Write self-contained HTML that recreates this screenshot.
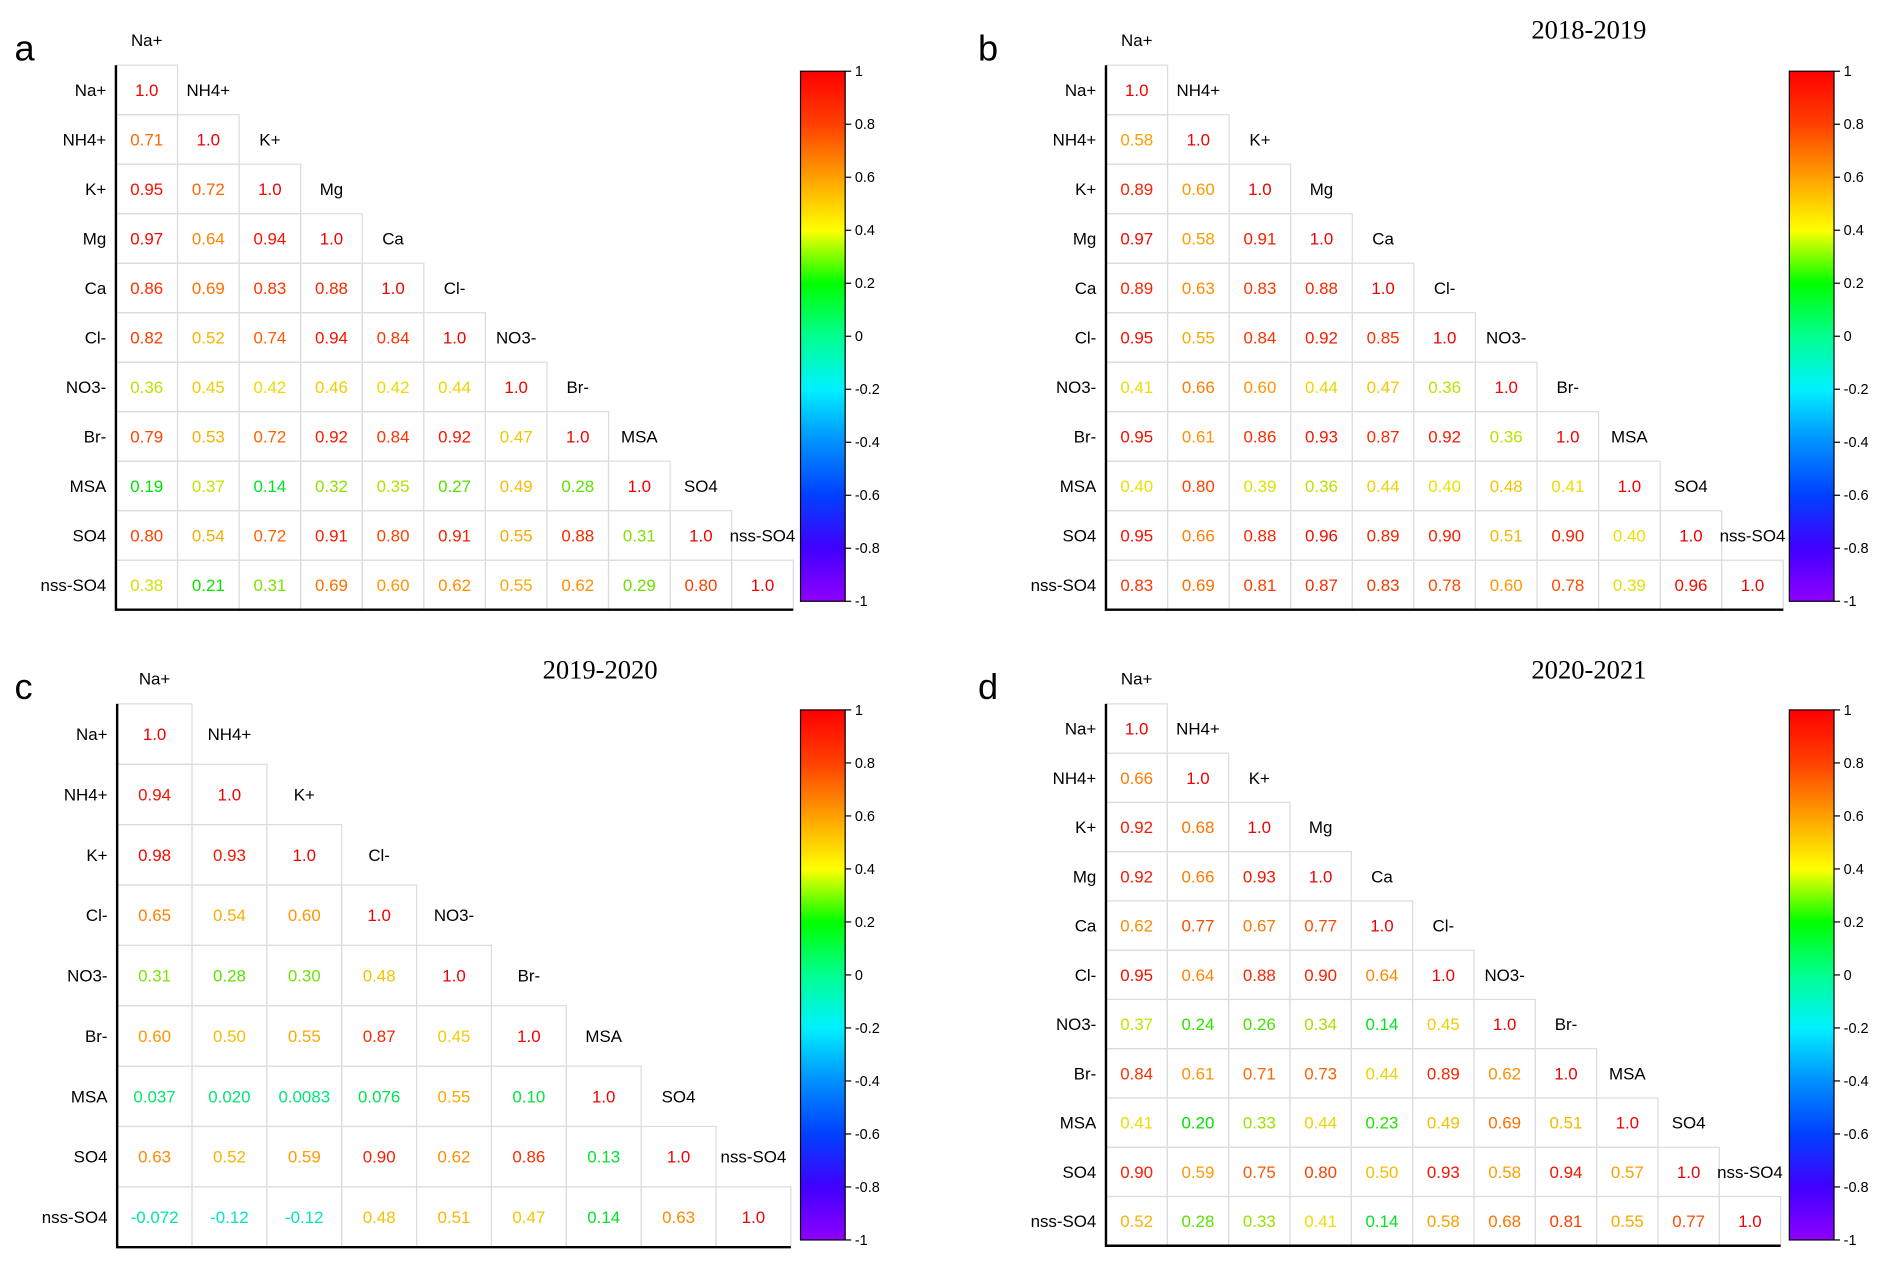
<!DOCTYPE html>
<html><head><meta charset="utf-8"><style>
html,body{margin:0;padding:0;background:#fff;}
svg{display:block;}
</style></head><body>
<svg id="fig" width="1892" height="1267" viewBox="0 0 1567 1049.4" xmlns="http://www.w3.org/2000/svg" font-family="Liberation Sans, Arial, sans-serif">
<defs>
<linearGradient id="rainbow" x1="0" y1="1" x2="0" y2="0">
<stop offset="0" stop-color="#8f00ff"/>
<stop offset="0.1" stop-color="#4000ff"/>
<stop offset="0.2" stop-color="#0040ff"/>
<stop offset="0.3" stop-color="#0090ff"/>
<stop offset="0.4" stop-color="#00f0ff"/>
<stop offset="0.5" stop-color="#00ff90"/>
<stop offset="0.6" stop-color="#00ff00"/>
<stop offset="0.7" stop-color="#ffff00"/>
<stop offset="0.8" stop-color="#ffa000"/>
<stop offset="0.9" stop-color="#ff4000"/>
<stop offset="1" stop-color="#ff0000"/>
</linearGradient>
</defs>
</svg>
<script>
// ---- data ----
const varsA = ["Na+","NH4+","K+","Mg","Ca","Cl-","NO3-","Br-","MSA","SO4","nss-SO4"];
const varsC = ["Na+","NH4+","K+","Cl-","NO3-","Br-","MSA","SO4","nss-SO4"];
const rowsA = [[],[0.71],[0.95,0.72],[0.97,0.64,0.94],[0.86,0.69,0.83,0.88],[0.82,0.52,0.74,0.94,0.84],[0.36,0.45,0.42,0.46,0.42,0.44],[0.79,0.53,0.72,0.92,0.84,0.92,0.47],[0.19,0.37,0.14,0.32,0.35,0.27,0.49,0.28],[0.80,0.54,0.72,0.91,0.80,0.91,0.55,0.88,0.31],[0.38,0.21,0.31,0.69,0.60,0.62,0.55,0.62,0.29,0.80]];
const rowsB = [[],[0.58],[0.89,0.60],[0.97,0.58,0.91],[0.89,0.63,0.83,0.88],[0.95,0.55,0.84,0.92,0.85],[0.41,0.66,0.60,0.44,0.47,0.36],[0.95,0.61,0.86,0.93,0.87,0.92,0.36],[0.40,0.80,0.39,0.36,0.44,0.40,0.48,0.41],[0.95,0.66,0.88,0.96,0.89,0.90,0.51,0.90,0.40],[0.83,0.69,0.81,0.87,0.83,0.78,0.60,0.78,0.39,0.96]];
const rowsC = [[],[0.94],[0.98,0.93],[0.65,0.54,0.60],[0.31,0.28,0.30,0.48],[0.60,0.50,0.55,0.87,0.45],[0.037,0.020,0.0083,0.076,0.55,0.10],[0.63,0.52,0.59,0.90,0.62,0.86,0.13],[-0.072,-0.12,-0.12,0.48,0.51,0.47,0.14,0.63]];
const rowsD = [[],[0.66],[0.92,0.68],[0.92,0.66,0.93],[0.62,0.77,0.67,0.77],[0.95,0.64,0.88,0.90,0.64],[0.37,0.24,0.26,0.34,0.14,0.45],[0.84,0.61,0.71,0.73,0.44,0.89,0.62],[0.41,0.20,0.33,0.44,0.23,0.49,0.69,0.51],[0.90,0.59,0.75,0.80,0.50,0.93,0.58,0.94,0.57],[0.52,0.28,0.33,0.41,0.14,0.58,0.68,0.81,0.55,0.77]];
const cbTicks = [1,0.8,0.6,0.4,0.2,0,-0.2,-0.4,-0.6,-0.8,-1];
const cbTickLabels = ["1","0.8","0.6","0.4","0.2","0","-0.2","-0.4","-0.6","-0.8","-1"];
const panelLetters = ["a","b","c","d"];
const panelTitles = ["","2018-2019","2019-2020","2020-2021"];

const NS="http://www.w3.org/2000/svg";
const svg=document.getElementById('fig');
function mk(tag,attrs,parent){const e=document.createElementNS(NS,tag);for(const k in attrs)e.setAttribute(k,attrs[k]);(parent||svg).appendChild(e);return e;}

const stops=[[-1,[143,0,255]],[-0.8,[64,0,255]],[-0.6,[0,64,255]],[-0.4,[0,144,255]],[-0.2,[0,230,240]],[0,[0,230,130]],[0.2,[0,225,0]],[0.4,[235,225,0]],[0.6,[255,150,0]],[0.8,[255,64,0]],[1,[240,0,0]]];
function color(v){
  for(let i=0;i<stops.length-1;i++){const a=stops[i],b=stops[i+1];
    if(v<=b[0]){const t=(v-a[0])/(b[0]-a[0]);const c=a[1].map((x,k)=>Math.round(x+(b[1][k]-x)*t));return `rgb(${c[0]},${c[1]},${c[2]})`;}}
  return 'rgb(240,0,0)';
}
function fmt(v){return v.toPrecision(2);}

function panel(idx,vars,rows,gx,gy,cw,ch,cbx,cby){
  const g=mk('g',{});
  
  
  const n=vars.length;
  const xS=j=>gx+j*cw, yS=i=>gy+i*ch;
  const L=mk('text',{x:(idx%2?810:12),y:gy-4,'font-size':30,'font-family':'Liberation Sans, sans-serif'},g);
  L.textContent=panelLetters[idx];
  
  
  if(panelTitles[idx]){
    const T=mk('text',{x:gx+400,y:(gy<300?32:562),'font-size':22,'font-family':'Liberation Serif, serif','text-anchor':'middle'},g);
    T.textContent=panelTitles[idx];
    
    
  }
  for(let i=0;i<n;i++){
    for(let j=0;j<=i;j++){
      const v=(j===i)?1:rows[i][j];
      const r=mk('rect',{x:xS(j),y:yS(i),width:cw,height:ch,fill:'none',stroke:'#dcdcdc','stroke-width':1},g);
      
      
      const t=mk('text',{x:xS(j)+cw/2,y:yS(i)+ch/2+5,'font-size':14,'text-anchor':'middle',fill:color(v)},g);
      t.textContent=(j===i)?'1.0':fmt(v);
      
      
    }
    const rl=mk('text',{x:gx-8,y:yS(i)+ch/2+5,'font-size':14,'text-anchor':'end',fill:'#000'},g);
    rl.textContent=vars[i];
    
    
    const cl=mk('text',{x:xS(i)+cw/2,y:(i===0?gy-16:yS(i-1)+ch/2+5),'font-size':14,'text-anchor':'middle',fill:'#000'},g);
    cl.textContent=vars[i];
    
    
  }
  const ax=mk('path',{d:`M${gx} ${gy} V${yS(n)} H${xS(n)}`,fill:'none',stroke:'#000','stroke-width':2},g);
  
  
  const cbw=37,cbh=439;
  const cb=mk('rect',{x:cbx,y:cby,width:cbw,height:cbh,fill:'url(#rainbow)',stroke:'#000','stroke-width':1},g);
  
  
  const yC=v=>cby+(1-v)/2*cbh;
  cbTicks.forEach((tv,k)=>{
    const tk=mk('line',{x1:cbx+cbw,x2:cbx+cbw+5,y1:yC(tv),y2:yC(tv),stroke:'#000','stroke-width':1},g);
    
    
    const tl=mk('text',{x:cbx+cbw+8,y:yC(tv)+4,'font-size':12,fill:'#000'},g);
    tl.textContent=cbTickLabels[k];
    
    
  });
}
panel(0,varsA,rowsA,96,54,51,41,663,59);
panel(1,varsA,rowsB,916,54,51,41,1482,59);
panel(2,varsC,rowsC,97,583,62,50,663,588);
panel(3,varsA,rowsD,916,583,50.8,40.8,1482,588);
</script>
</body></html>
